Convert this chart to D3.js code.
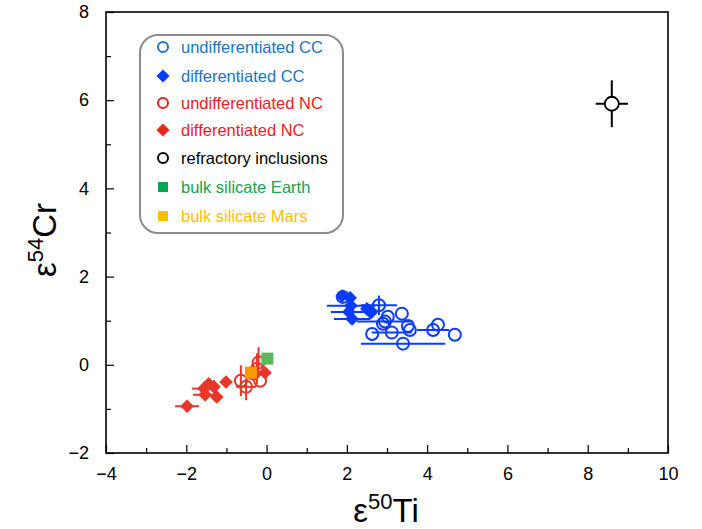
<!DOCTYPE html>
<html><head><meta charset="utf-8">
<script src="https://cdn.jsdelivr.net/npm/d3@7"></script>
<style>body{margin:0;background:#fff}svg{font-family:"Liberation Sans",Arial,Helvetica,sans-serif}</style>
</head><body><svg id="c" width="702" height="529"></svg>
<script>
// x = ε50Ti, y = ε54Cr, xe/ye = error half-widths
const undiffCC = [
  {x:1.90,y:1.54,xe:0,ye:0},{x:2.80,y:1.35,xe:0.45,ye:0.22},{x:3.02,y:1.09,xe:0,ye:0},
  {x:3.37,y:1.16,xe:0,ye:0},{x:2.95,y:0.98,xe:0.7,ye:0},{x:2.90,y:0.93,xe:0,ye:0},
  {x:3.52,y:0.88,xe:0,ye:0},{x:3.57,y:0.79,xe:0,ye:0},{x:2.63,y:0.70,xe:0,ye:0},
  {x:3.12,y:0.73,xe:0.5,ye:0},{x:3.40,y:0.48,xe:1.05,ye:0},{x:4.15,y:0.79,xe:0.4,ye:0},
  {x:4.27,y:0.91,xe:0,ye:0},{x:4.69,y:0.68,xe:0,ye:0}
];
const diffCC = [
  {x:1.88,y:1.56,xe:0,ye:0},{x:2.08,y:1.52,xe:0,ye:0},{x:2.10,y:1.34,xe:0.6,ye:0},
  {x:2.05,y:1.20,xe:0.45,ye:0},{x:2.13,y:1.04,xe:0.45,ye:0},{x:2.50,y:1.27,xe:0,ye:0},
  {x:2.60,y:1.18,xe:0,ye:0}
];
const undiffNC = [
  {x:-0.64,y:-0.36,xe:0,ye:0.35},{x:-0.51,y:-0.50,xe:0.25,ye:0.3},{x:-0.24,y:-0.09,xe:0,ye:0.35},
  {x:-0.16,y:-0.36,xe:0,ye:0},{x:-0.34,y:-0.20,xe:0,ye:0},{x:-0.20,y:0.05,xe:0,ye:0.35}
];
const diffNC = [
  {x:-1.98,y:-0.94,xe:0.3,ye:0},{x:-1.56,y:-0.54,xe:0.3,ye:0},{x:-1.53,y:-0.68,xe:0.3,ye:0},
  {x:-1.44,y:-0.43,xe:0,ye:0},{x:-1.24,y:-0.73,xe:0,ye:0},{x:-1.31,y:-0.50,xe:0,ye:0.15},
  {x:-1.01,y:-0.39,xe:0,ye:0},{x:-0.04,y:-0.18,xe:0,ye:0}
];
const refractory = [{x:8.6,y:5.92,xe:0.4,ye:0.53}];
const bse = [{x:0.02,y:0.14}];
const bsm = [{x:-0.39,y:-0.18}];
const xTicks = [-4,-2,0,2,4,6,8,10];
const yTicks = [-2,0,2,4,6,8];
const legendLabels = ["undifferentiated CC","differentiated CC","undifferentiated NC","differentiated NC","refractory inclusions","bulk silicate Earth","bulk silicate Mars"];

const svg = d3.select("#c");
const L=106,R=668,T=12,B=453;
const x = d3.scaleLinear().domain([-4,10]).range([L,R]);
const y = d3.scaleLinear().domain([-2,8]).range([B,T]);
const fmt = d=> d<0 ? "\u2212"+Math.abs(d) : String(d);

// axes
const xa = svg.append("g").attr("transform",`translate(0,${B})`)
  .call(d3.axisBottom(x).tickValues(xTicks).tickSize(-8).tickPadding(12).tickFormat(fmt));
const ya = svg.append("g").attr("transform",`translate(${L},0)`)
  .call(d3.axisLeft(y).tickValues(yTicks).tickSize(-8).tickPadding(17).tickFormat(fmt));
[xa,ya].forEach(a=>{a.select(".domain").remove();a.selectAll("line").attr("stroke","#000").attr("stroke-width",1.2);
  a.selectAll("text").attr("font-size",18).attr("fill","#000").attr("font-family","Liberation Sans, Arial");});
xa.selectAll("text").attr("dy","0.85em");
svg.append("g").attr("transform",`translate(0,${B})`)
  .call(d3.axisBottom(x).tickValues(d3.range(-3,10,2)).tickSize(-5).tickFormat(""))
  .call(g=>{g.select(".domain").remove();g.selectAll("line").attr("stroke","#000").attr("stroke-width",1.2);});
svg.append("g").attr("transform",`translate(${L},0)`)
  .call(d3.axisLeft(y).tickValues(d3.range(-1,8,2)).tickSize(-5).tickFormat(""))
  .call(g=>{g.select(".domain").remove();g.selectAll("line").attr("stroke","#000").attr("stroke-width",1.2);});
svg.append("rect").attr("x",L).attr("y",T).attr("width",R-L).attr("height",B-T)
  .attr("fill","none").attr("stroke","#000").attr("stroke-width",1.6);

// titles
const xt = svg.append("text").attr("x",386).attr("y",522).attr("text-anchor","middle").attr("font-size",33);
xt.append("tspan").text("\u03b5");
xt.append("tspan").attr("font-size",22).attr("dy",-13).text("50");
xt.append("tspan").attr("dy",13).text("Ti");
const yt = svg.append("text").attr("transform","translate(56,240) rotate(-90)").attr("text-anchor","middle").attr("font-size",33);
yt.append("tspan").text("\u03b5");
yt.append("tspan").attr("font-size",22).attr("dy",-13).text("54");
yt.append("tspan").attr("dy",13).text("Cr");

// error bars
function errs(data,color){
  const g=svg.append("g").attr("stroke",color).attr("stroke-width",2);
  data.filter(d=>d.xe>0).forEach(d=>g.append("line").attr("x1",x(d.x-d.xe)).attr("x2",x(d.x+d.xe)).attr("y1",y(d.y)).attr("y2",y(d.y)));
  data.filter(d=>d.ye>0).forEach(d=>g.append("line").attr("x1",x(d.x)).attr("x2",x(d.x)).attr("y1",y(d.y-d.ye)).attr("y2",y(d.y+d.ye)));
}
const blue="#0a3cff", red="#e8372a";
errs(diffCC,blue); errs(undiffCC,blue); errs(diffNC,red); errs(undiffNC,red); errs(refractory,"#000");

const diamond = d3.symbol().type(d3.symbolDiamond2).size(120);
function circles(data,color){
  svg.append("g").selectAll("circle").data(data).join("circle")
    .attr("cx",d=>x(d.x)).attr("cy",d=>y(d.y)).attr("r",6)
    .attr("fill","none").attr("stroke",color).attr("stroke-width",2);
}
function diamonds(data,color){
  svg.append("g").selectAll("path").data(data).join("path")
    .attr("d",diamond).attr("transform",d=>`translate(${x(d.x)},${y(d.y)})`).attr("fill",color);
}
function squares(data,color){
  svg.append("g").selectAll("rect").data(data).join("rect")
    .attr("x",d=>x(d.x)-6).attr("y",d=>y(d.y)-6).attr("width",12).attr("height",12).attr("fill",color);
}
diamonds(diffNC,red);
circles(undiffNC,red);
diamonds(diffCC,blue);
circles(undiffCC,blue);
svg.append("g").selectAll("circle").data(refractory).join("circle")
  .attr("cx",d=>x(d.x)).attr("cy",d=>y(d.y)).attr("r",7).attr("fill","#fff").attr("stroke","#000").attr("stroke-width",1.8);
squares(bsm,"#ff9900");
squares(bse,"#5cb85c");

// legend
svg.append("rect").attr("x",140).attr("y",35).attr("width",203).attr("height",198).attr("rx",18)
  .attr("fill","#fff").attr("stroke","#8c8c8c").attr("stroke-width",2);
const rowsY=[47,76,103,130,158,187,216];
const textCol=["#1b75c4","#1b75c4","#ee1d23","#ee1d23","#000","#16a34a","#ffbf00"];
const lg = svg.append("g");
const mx=163;
lg.append("circle").attr("cx",mx).attr("cy",rowsY[0]).attr("r",5).attr("fill","none").attr("stroke","#1b75c4").attr("stroke-width",2);
lg.append("path").attr("d",d3.symbol().type(d3.symbolDiamond2).size(110)).attr("transform",`translate(${mx},${rowsY[1]})`).attr("fill",blue);
lg.append("circle").attr("cx",mx).attr("cy",rowsY[2]).attr("r",5).attr("fill","none").attr("stroke","#ee1d23").attr("stroke-width",2);
lg.append("path").attr("d",d3.symbol().type(d3.symbolDiamond2).size(110)).attr("transform",`translate(${mx},${rowsY[3]})`).attr("fill","#e8281c");
lg.append("circle").attr("cx",mx).attr("cy",rowsY[4]).attr("r",5).attr("fill","none").attr("stroke","#000").attr("stroke-width",2);
lg.append("rect").attr("x",mx-5).attr("y",rowsY[5]-5).attr("width",10).attr("height",10).attr("fill","#00a650");
lg.append("rect").attr("x",mx-5).attr("y",rowsY[6]-5).attr("width",10).attr("height",10).attr("fill","#ffbf00");
lg.selectAll("text").data(legendLabels).join("text")
  .attr("x",181).attr("y",(d,i)=>rowsY[i]).attr("dy","0.35em").attr("font-size",16.5)
  .attr("fill",(d,i)=>textCol[i]).text(d=>d);
</script></body></html>
